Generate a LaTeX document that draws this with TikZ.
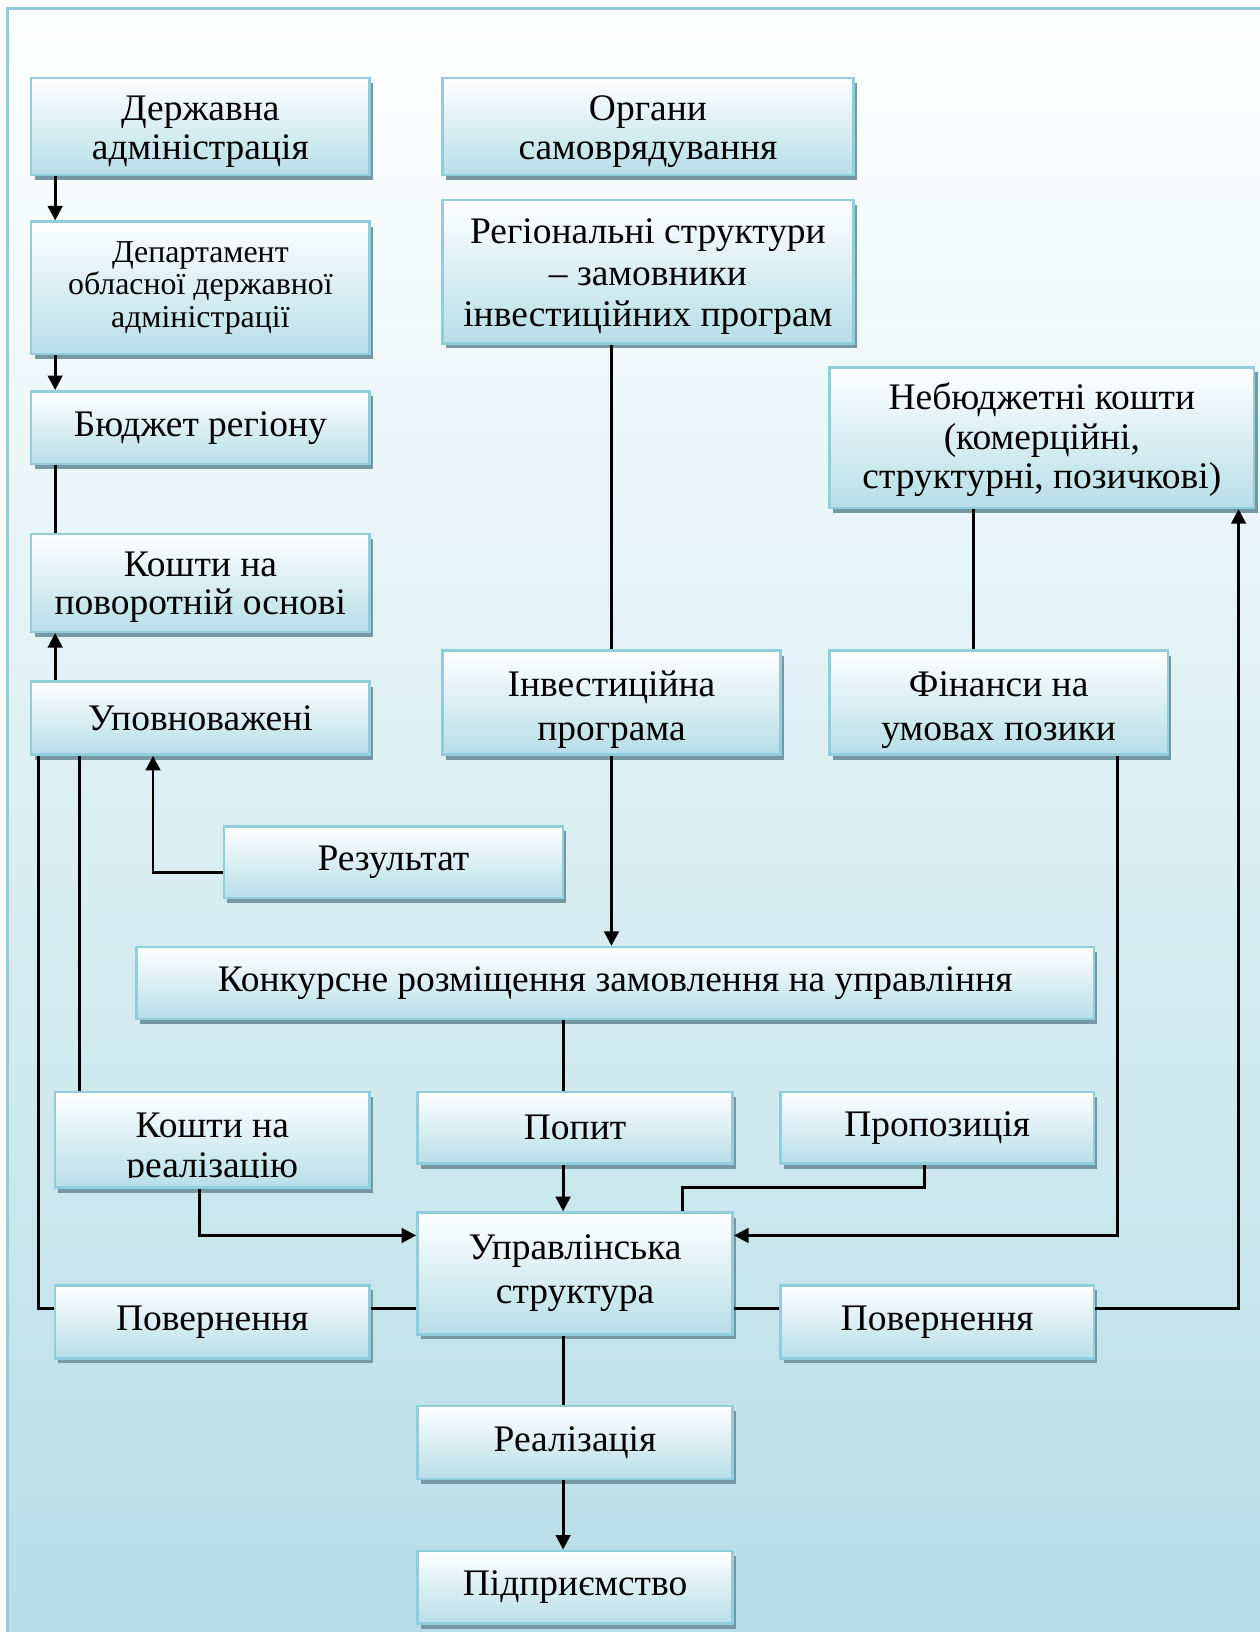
\documentclass[tikz,border=0pt]{standalone}
\usepackage{fontspec}
\setmainfont{Liberation Serif}
\usetikzlibrary{arrows.meta,shadows}
\definecolor{boxblue}{RGB}{183,222,232}
\definecolor{boxline}{RGB}{146,205,220}
\definecolor{shadowblue}{RGB}{118,152,163}
\definecolor{bgblue}{RGB}{182,221,231}
\newcommand{\dn}[2][2.5pt]{\raisebox{-#1}[\height][\depth]{#2}}

\begin{document}
\begin{tikzpicture}[x=0.5pt,y=-0.5pt,
    blk/.style={draw=boxline, line width=1.2pt, top color=white, bottom color=boxblue,
      drop shadow={shadow xshift=1.6pt, shadow yshift=-2.4pt, fill=shadowblue, opacity=1},
      align=center, inner sep=0pt, font=\fontsize{18}{18.5}\selectfont},
    wide/.style={font=\fontsize{18}{21}\selectfont},
    con/.style={line width=1.4pt},
    arr/.style={con, -{Triangle[length=7pt,width=7pt]}}]
  % Page and frame
  \useasboundingbox (0,0) rectangle (1210,1568);
  \shade[top color=white, bottom color=bgblue, draw=boxline, line width=1.2pt]
        (7,8) rectangle (1240,1600);

  % Lanes for the connectors
  \coordinate (lA) at (53,0);   \coordinate (lOut) at (37,0);
  \coordinate (lK) at (76,0);   \coordinate (lRes) at (147,0);
  \coordinate (lKr) at (192,0); \coordinate (lMid) at (541,0);
  \coordinate (lPin) at (656,0); \coordinate (lPout) at (888,0);
  \coordinate (lNeb) at (935,0); \coordinate (lFin) at (1074,0);
  \coordinate (lRet) at (1190,0);
  \coordinate (rRes) at (0,838);  \coordinate (rProp) at (0,1141);
  \coordinate (rIn) at (0,1187);  \coordinate (rRet) at (0,1257);

  % Boxes
  \node[blk, minimum width=162.5pt, minimum height=46.5pt] (gosadm) at (192.5,121.5)
        {\dn{Державна}\\\dn{адміністрація}};
  \node[blk, minimum width=197.5pt, minimum height=46.5pt] (organy) at (622.5,121.5)
        {\dn{Органи}\\\dn{самоврядування}};
  \node[blk, minimum width=162.5pt, minimum height=63.5pt,
        font=\fontsize{15.3}{15.5}\selectfont] (depart) at (192.5,276.5)
        {Департамент\\обласної державної\\адміністрації};
  \node[blk, minimum width=197.5pt, minimum height=69pt,
        font=\fontsize{18}{20}\selectfont] (region) at (622.5,261)
        {\dn{Регіональні структури}\\\dn{– замовники}\\\dn{інвестиційних програм}};
  \node[blk, minimum width=162.5pt, minimum height=35pt] (budget) at (192.5,411)
        {Бюджет регіону};
  \node[blk, minimum width=204pt, minimum height=67.5pt,
        font=\fontsize{18}{18.8}\selectfont] (nebudg) at (1001,420.5)
        {\dn[1pt]{Небюджетні кошти}\\\dn[1pt]{(комерційні,}\\\dn[1pt]{структурні, позичкові)}};
  \node[blk, minimum width=162.5pt, minimum height=47pt] (povorot) at (192.5,560)
        {\dn[2pt]{Кошти на}\\\dn[2pt]{поворотній основі}};
  \node[blk, minimum width=162.5pt, minimum height=35pt] (upovn) at (192.5,690)
        {Уповноважені};
  \node[blk, wide, minimum width=162.5pt, minimum height=50pt] (invest) at (587.5,675)
        {\dn[3.5pt]{Інвестиційна}\\\dn[3.5pt]{програма}};
  \node[blk, wide, minimum width=162.5pt, minimum height=50pt] (finance) at (959.5,675)
        {\dn[3.5pt]{Фінанси на}\\\dn[3.5pt]{умовах позики}};
  \node[blk, minimum width=163pt, minimum height=34.5pt] (result) at (378,828.5)
        {Результат};
  \node[blk, minimum width=460pt, minimum height=34.5pt] (konkurs) at (591,944.5)
        {Конкурсне розміщення замовлення на управління};
  \node[blk, minimum width=151pt, minimum height=46pt,
        path picture={
          \clip ([yshift=5pt]path picture bounding box.south west)
                rectangle (path picture bounding box.north east);
          \node[align=center, inner sep=0pt, font=\fontsize{18}{19.5}\selectfont]
                at ([yshift=-4.5pt]path picture bounding box.center) {Кошти на\\реалізацію};
        }] (koshtyreal) at (204,1095) {};
  \node[blk, minimum width=151.5pt, minimum height=34.5pt] (popyt) at (552.5,1083.5)
        {Попит};
  \node[blk, minimum width=150.5pt, minimum height=34.5pt] (propoz) at (900.5,1083.5)
        {Пропозиція};
  \node[blk, wide, minimum width=151.5pt, minimum height=58.5pt] (uprav) at (552.5,1223.5)
        {Управлінська\\структура};
  \node[blk, minimum width=151pt, minimum height=35pt] (povernL) at (204,1270)
        {Повернення};
  \node[blk, minimum width=150.5pt, minimum height=35pt] (povernR) at (900.5,1270)
        {Повернення};
  \node[blk, minimum width=151.5pt, minimum height=35pt] (realiz) at (552.5,1386)
        {Реалізація};
  \node[blk, minimum width=151.5pt, minimum height=35pt] (pidpr) at (552.5,1525)
        {Підприємство};

  % Left column
  \draw[arr] (gosadm.south -| lA) -- (depart.north -| lA);
  \draw[arr] (depart.south -| lA) -- (budget.north -| lA);
  \draw[con] (budget.south -| lA) -- (povorot.north -| lA);
  \draw[arr] (upovn.north -| lA) -- (povorot.south -| lA);
  \draw[arr] (result.west |- rRes) -| (upovn.south -| lRes);
  \draw[con] (upovn.south -| lK) -- (koshtyreal.north -| lK);
  \draw[con] (upovn.south -| lOut) |- (povernL.west |- rRet);

  % Middle and right
  \draw[con] (region.south -| invest.north) -- (invest.north);
  \draw[con] (nebudg.south -| lNeb) -- (finance.north -| lNeb);
  \draw[arr] (invest.south) -- (invest.south |- konkurs.north);
  \draw[con] (konkurs.south -| lMid) -- (popyt.north -| lMid);
  \draw[arr] (popyt.south -| lMid) -- (uprav.north -| lMid);
  \draw[con] (propoz.south -| lPout) -- (lPout |- rProp) -- (lPin |- rProp)
             -- (uprav.north -| lPin);
  \draw[arr] (finance.south -| lFin) |- (uprav.east |- rIn);
  \draw[arr] (koshtyreal.south -| lKr) |- (uprav.west |- rIn);
  \draw[con] (povernL.east |- rRet) -- (uprav.west |- rRet);
  \draw[con] (uprav.east |- rRet) -- (povernR.west |- rRet);
  \draw[arr] (povernR.east |- rRet) -| (nebudg.south -| lRet);
  \draw[con] (uprav.south -| lMid) -- (realiz.north -| lMid);
  \draw[arr] (realiz.south -| lMid) -- (pidpr.north -| lMid);
\end{tikzpicture}
\end{document}
